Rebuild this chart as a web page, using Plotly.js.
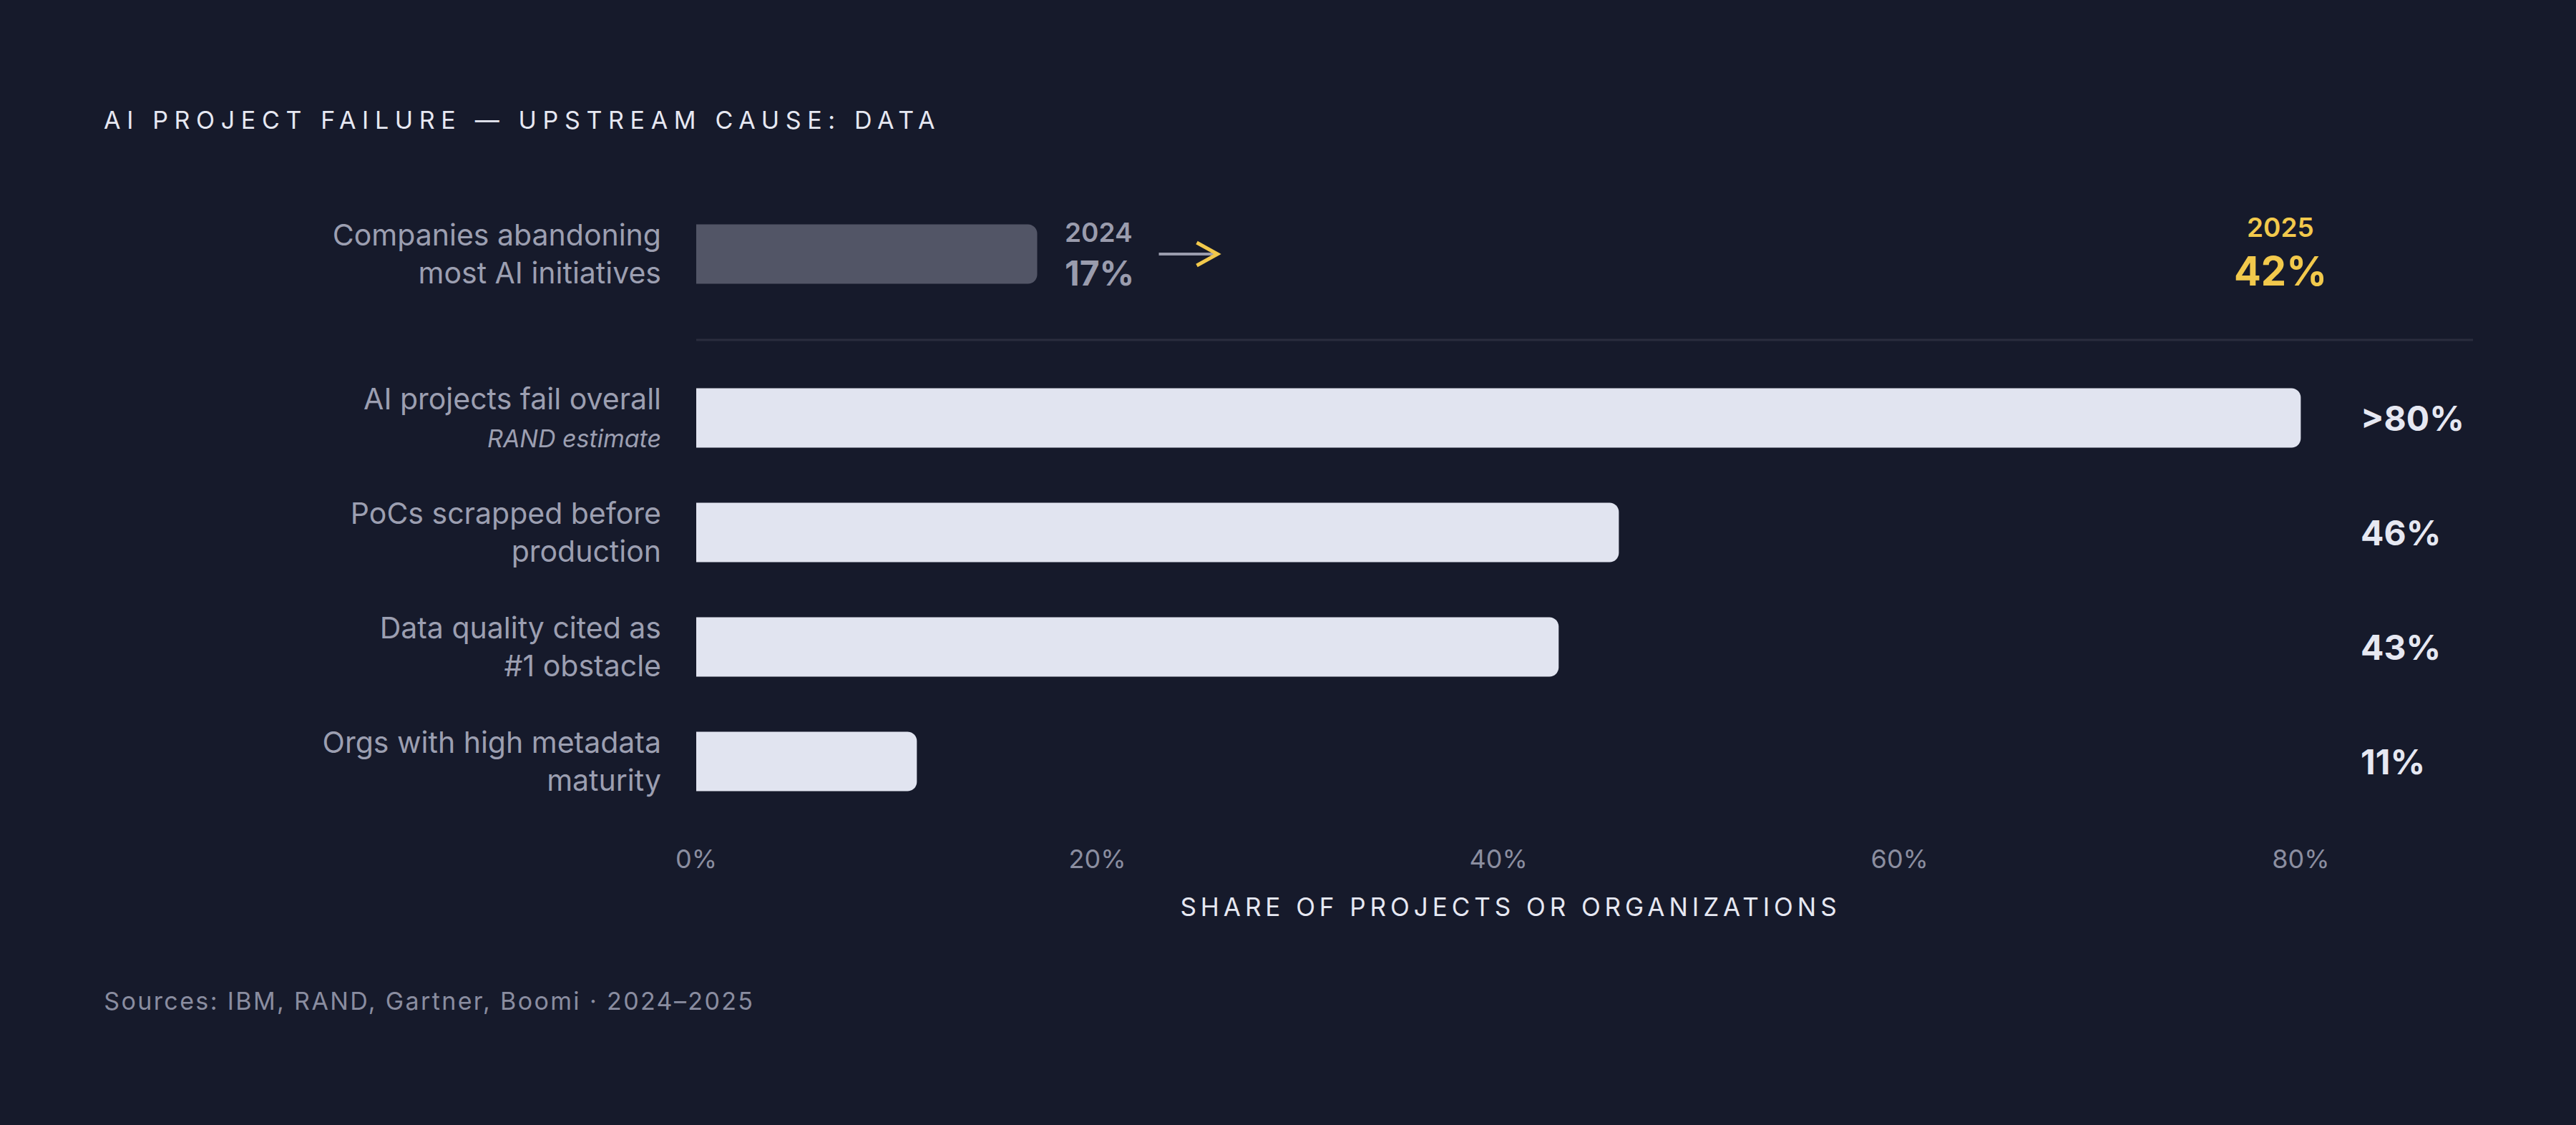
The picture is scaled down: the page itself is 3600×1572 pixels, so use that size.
<!DOCTYPE html>
<html>
<head>
<meta charset="utf-8">
<script src="https://cdn.plot.ly/plotly-3.0.1.min.js"></script>
<style>
  html, body { margin: 0; padding: 0; background: #161a2b; }
  #chart { width: 3600px; height: 1572px; }
  #chart .gtitle { letter-spacing: 0.255em; }
  #chart .xtitle { letter-spacing: 0.17em; }
  #chart g.annotation[data-index="0"] text { letter-spacing: 0.07em; }
</style>
</head>
<body>
<div id="chart"></div>
<script>
// rows of the main panel, top to bottom
const rowLabels = [
    'AI projects fail overall<br><i><span style="font-size:34px">RAND estimate</span></i>',
    'PoCs scrapped before<br>production',
    'Data quality cited as<br>#1 obstacle',
    'Orgs with high metadata<br>maturity'
];
const rowValues = [80, 46, 43, 11];
const rowValueLabels = ['>80%', '46%', '43%', '11%'];

// the 2024 -> 2025 comparison row
const trendLabel = 'Companies abandoning<br>most AI initiatives';
const trendYears = ['2024', '2025'];
const trendValues = [17, 42];

const xTicks = [0, 20, 40, 60, 80];
const xTickText = xTicks.map(v => v + '%');

const BG = '#161a2b';
const LIGHT = '#e1e4f0';
const GREY_TEXT = '#9c9fb1';
const YELLOW = '#f2c94c';
const FONT = 'Inter, "Noto Sans", sans-serif';

const traces = [
    {
        type: 'bar',
        orientation: 'h',
        x: rowValues,
        y: rowLabels,
        xaxis: 'x',
        yaxis: 'y',
        width: 0.52,
        marker: { color: LIGHT, cornerradius: 13 },
        hoverinfo: 'skip'
    },
    {
        type: 'bar',
        orientation: 'h',
        x: [trendValues[0]],
        y: [trendLabel],
        xaxis: 'x',
        yaxis: 'y2',
        width: 0.52,
        marker: { color: '#525566', cornerradius: 13 },
        hoverinfo: 'skip'
    }
];

const annotations = [];

// footer first (index 0, letter-spaced through css; spacing grows around the centre)
annotations.push({
    xref: 'paper', x: -0.3405, xanchor: 'left',
    yref: 'paper', y: -0.2923, yanchor: 'middle',
    text: 'Sources: IBM, RAND, Gartner, Boomi · 2024–2025',
    showarrow: false,
    font: { family: FONT, size: 34, color: '#8a8da0' }
});

// value labels in a column to the right
rowLabels.forEach((lab, i) => {
    annotations.push({
        xref: 'paper', x: 1.0211, xanchor: 'left',
        yref: 'y', y: lab, yanchor: 'middle',
        text: rowValueLabels[i],
        showarrow: false,
        font: { family: FONT, size: 48, weight: 700, color: '#e6e8f2' }
    });
});

// 2024 value next to its bar
annotations.push({
    xref: 'x', x: trendValues[0], xanchor: 'left', xshift: 36,
    yref: 'y2', y: trendLabel, yanchor: 'middle', yshift: 31,
    text: trendYears[0], showarrow: false,
    font: { family: FONT, size: 37, weight: 600, color: '#9a9cad' }
});
annotations.push({
    xref: 'x', x: trendValues[0], xanchor: 'left', xshift: 36,
    yref: 'y2', y: trendLabel, yanchor: 'middle', yshift: -26,
    text: trendValues[0] + '%', showarrow: false,
    font: { family: FONT, size: 48, weight: 700, color: '#9a9cad' }
});

// 2025 value, highlighted at the right
annotations.push({
    xref: 'paper', x: 0.9728, xanchor: 'center',
    yref: 'y2', y: trendLabel, yanchor: 'middle', yshift: 38,
    text: trendYears[1], showarrow: false,
    font: { family: FONT, size: 37, weight: 600, color: YELLOW }
});
annotations.push({
    xref: 'paper', x: 0.9728, xanchor: 'center',
    yref: 'y2', y: trendLabel, yanchor: 'middle', yshift: -24,
    text: trendValues[1] + '%', showarrow: false,
    font: { family: FONT, size: 56, weight: 700, color: YELLOW }
});

const shapes = [
    // divider between the comparison row and the main rows
    {
        type: 'line', xref: 'paper', yref: 'paper',
        x0: 0, x1: 1.091, y0: 0.7698, y1: 0.7698,
        line: { color: '#2a2d3e', width: 3 }
    },
    // arrow shaft
    {
        type: 'line',
        xref: 'x', xsizemode: 'pixel', xanchor: trendValues[0], x0: 170, x1: 250,
        yref: 'y2', ysizemode: 'pixel', yanchor: 0, y0: 0, y1: 0,
        line: { color: '#9a9cad', width: 4 }
    },
    // arrow head
    {
        type: 'path',
        xref: 'x', xsizemode: 'pixel', xanchor: trendValues[0],
        yref: 'y2', ysizemode: 'pixel', yanchor: 0,
        path: 'M223,16 L252,0 L223,-16',
        line: { color: YELLOW, width: 5 }
    }
];

const layout = {
    width: 3600,
    height: 1572,
    paper_bgcolor: BG,
    plot_bgcolor: BG,
    margin: { l: 973, r: 351, t: 275, b: 428 },
    showlegend: false,
    font: { family: FONT, color: GREY_TEXT },
    title: {
        text: 'AI PROJECT FAILURE — UPSTREAM CAUSE: DATA',
        xref: 'container', x: 145 / 3600, xanchor: 'left',
        yref: 'container', y: 1 - 168 / 1572, yanchor: 'middle',
        font: { family: FONT, size: 34, color: '#e6e8f2' }
    },
    xaxis: {
        anchor: 'y',
        range: [0, 81.2],
        tickmode: 'array',
        tickvals: xTicks,
        ticktext: xTickText,
        ticks: '',
        showgrid: false,
        zeroline: false,
        showline: false,
        ticklabelstandoff: 32,
        tickfont: { family: FONT, size: 36, color: '#8b8ea0' },
        title: {
            text: 'SHARE OF PROJECTS OR ORGANIZATIONS',
            standoff: 34,
            font: { family: FONT, size: 35, color: '#e6e8f2' }
        },
        fixedrange: true
    },
    yaxis: {
        domain: [0, 640 / 869],
        type: 'category',
        categoryorder: 'array',
        categoryarray: rowLabels,
        range: [3.5, -0.5],
        ticks: '',
        showgrid: false,
        zeroline: false,
        showline: false,
        ticklabelstandoff: 48,
        tickfont: { family: FONT, size: 41, color: GREY_TEXT },
        fixedrange: true
    },
    yaxis2: {
        domain: [(1144 - 435) / 869, 1],
        anchor: 'x',
        type: 'category',
        range: [-0.5, 0.5],
        ticks: '',
        showgrid: false,
        zeroline: false,
        showline: false,
        ticklabelstandoff: 48,
        tickfont: { family: FONT, size: 41, color: GREY_TEXT },
        fixedrange: true
    },
    annotations: annotations,
    shapes: shapes
};

Plotly.newPlot('chart', traces, layout, { displayModeBar: false, responsive: false });
</script>
</body>
</html>
